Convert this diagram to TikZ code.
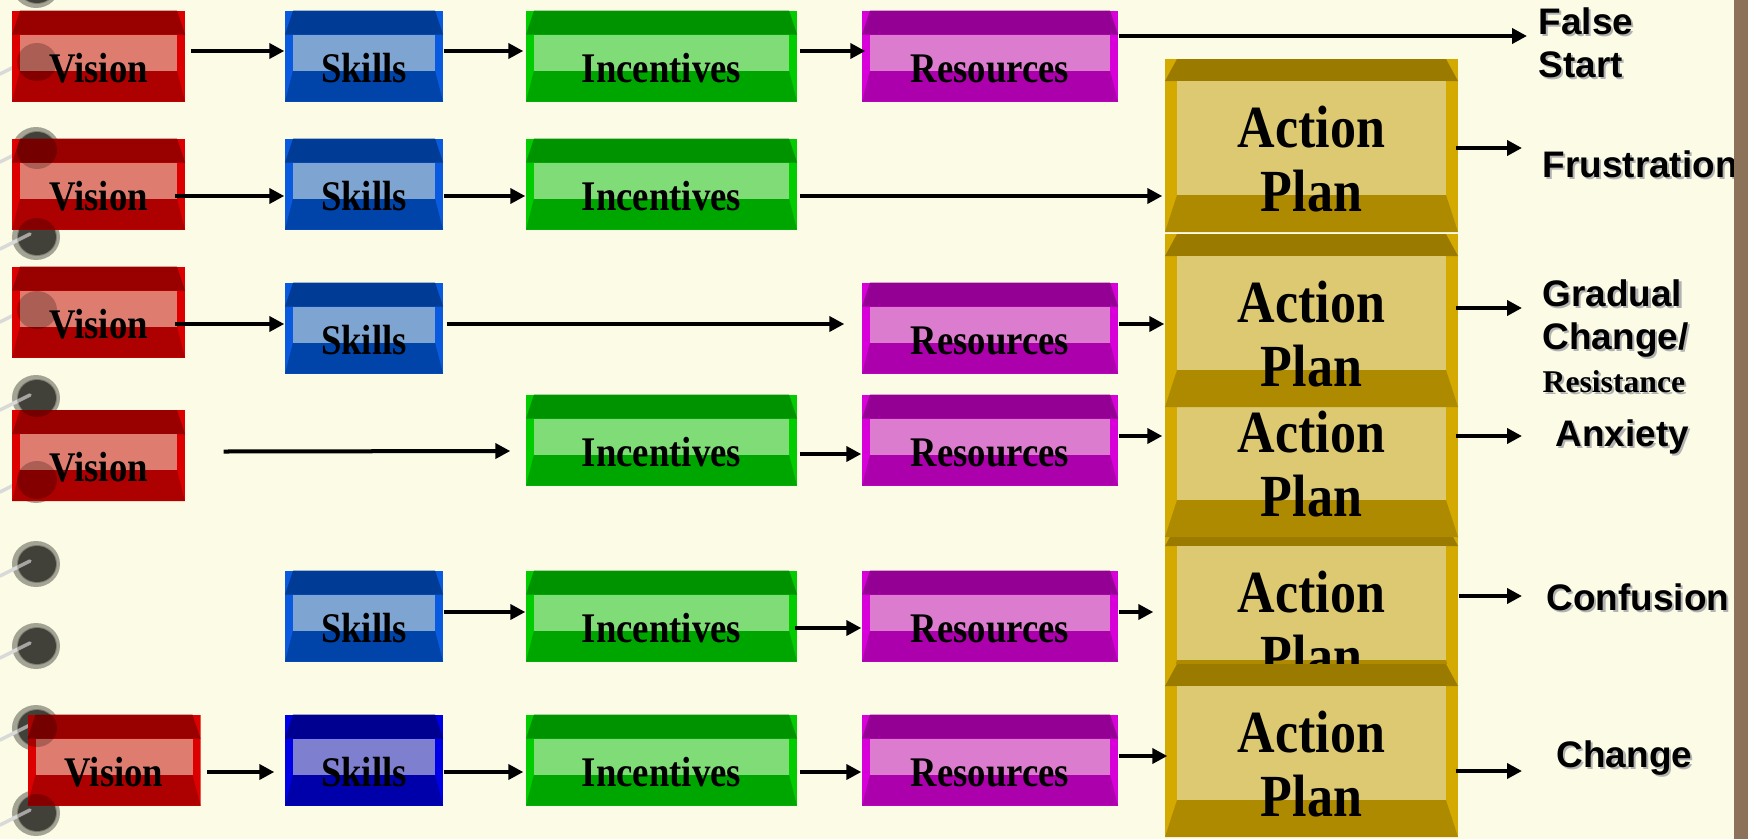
\documentclass[tikz,border=0pt]{standalone}
\usepackage{fontspec}
\setmainfont{Liberation Serif}
\setsansfont{Liberation Sans}
\newfontfamily\boxfont[FakeStretch=0.87]{Liberation Serif}
\usepackage{tikz}
\usetikzlibrary{positioning,arrows.meta}

\newlength\upx
\setlength\upx{0.01cm}

\definecolor{paper}{HTML}{FBFBE6}
\definecolor{binder}{HTML}{8B7258}
\definecolor{ring}{HTML}{3A3931}
\definecolor{vTop}{HTML}{990000}
\definecolor{vPan}{HTML}{DE7C70}
\definecolor{vBot}{HTML}{AD0000}
\definecolor{vSide}{HTML}{DD0000}
\definecolor{sTop}{HTML}{003C96}
\definecolor{sPan}{HTML}{7EA5D2}
\definecolor{sBot}{HTML}{0044AA}
\definecolor{sSide}{HTML}{0A5AE0}
\definecolor{dTop}{HTML}{000090}
\definecolor{dPan}{HTML}{7F7FCF}
\definecolor{dBot}{HTML}{0000AA}
\definecolor{dSide}{HTML}{0000E6}
\definecolor{iTop}{HTML}{009300}
\definecolor{iPan}{HTML}{7FDC77}
\definecolor{iBot}{HTML}{00A600}
\definecolor{iSide}{HTML}{00CC00}
\definecolor{rTop}{HTML}{940094}
\definecolor{rPan}{HTML}{DC7CCF}
\definecolor{rBot}{HTML}{AD00AD}
\definecolor{rSide}{HTML}{D800D8}
\definecolor{pTop}{HTML}{9A7B00}
\definecolor{pPan}{HTML}{DDC971}
\definecolor{pBot}{HTML}{AD8A00}
\definecolor{pSide}{HTML}{D4AA00}

% bevelled face: top, panel, bottom, side colours; inset, top depth, bottom depth
\newcommand\bevelfill[7]{%
  \fill[#4] (path picture bounding box.south west) rectangle (path picture bounding box.north east);
  \fill[#1] ([shift={(#5,0)}]path picture bounding box.north west) -- ([shift={(-#5,0)}]path picture bounding box.north east)
    -- ([shift={(0,#6)}]path picture bounding box.north east) -- ([shift={(0,#6)}]path picture bounding box.north west) -- cycle;
  \fill[#3] (path picture bounding box.south west) -- (path picture bounding box.south east)
    -- ([shift={(-#5,-#7)}]path picture bounding box.south east) -- ([shift={(#5,-#7)}]path picture bounding box.south west) -- cycle;
  \fill[#2] ([shift={(#5,#6)}]path picture bounding box.north west) rectangle ([shift={(-#5,-#7)}]path picture bounding box.south east);
}
\newcommand\shadowed[1]{\makebox[0pt][l]{\kern0.6pt\raisebox{-0.6pt}{\color{black!30}#1}}#1}

\tikzset{
  block/.style={rectangle, inner sep=0pt, minimum height=91\upx, text height=52\upx, text depth=0pt,
    font=\boxfont\bfseries\fontsize{12}{13}\selectfont},
  vision/.style={block, minimum width=173\upx, path picture={\bevelfill{vTop}{vPan}{vBot}{vSide}{8}{24}{31}}},
  skills/.style={block, minimum width=158\upx, path picture={\bevelfill{sTop}{sPan}{sBot}{sSide}{8}{24}{31}}},
  skillsdark/.style={block, minimum width=158\upx, path picture={\bevelfill{dTop}{dPan}{dBot}{dSide}{8}{24}{31}}},
  incent/.style={block, minimum width=271\upx, path picture={\bevelfill{iTop}{iPan}{iBot}{iSide}{8}{24}{31}}},
  resource/.style={block, minimum width=256\upx, path picture={\bevelfill{rTop}{rPan}{rBot}{rSide}{8}{24}{31}}},
  plan/.style={rectangle, inner sep=0pt, minimum width=293\upx, minimum height=173\upx, align=center,
    text height=132\upx, text depth=0pt, font=\boxfont\bfseries\fontsize{17}{18.2}\selectfont,
    path picture={\bevelfill{pTop}{pPan}{pBot}{pSide}{12}{22}{37}}},
  arr/.style={line width=0.04cm, -{Triangle[length=0.15cm,width=0.15cm]}},
  outcome/.style={anchor=west, inner sep=0pt, align=left, font=\sffamily\bfseries\fontsize{10.5}{12.2}\selectfont},
}

\begin{document}
\begin{tikzpicture}[x=\upx, y=-\upx]
\useasboundingbox (0,0) rectangle (1748,839);
\clip (0,0) rectangle (1748,839);
\fill[paper] (0,0) rectangle (1748,839);

% binder rings
\foreach \y in {-15,62,150,237,310,398,480,564,646,728,813} {
  \fill[ring!45!paper] (36,\y) ellipse [x radius=24\upx, y radius=23\upx];
  \fill[ring!85!paper] (37,\y) ellipse [x radius=19\upx, y radius=18\upx];
  \draw[gray!30, line width=0.035cm, line cap=round] (0,\y+12) -- (30,\y-3);
}

% rows
\node[vision] (v1) at (98.5,56) {Vision};
\node[skills] (s1) at (364,56) {Skills};
\node[incent] (i1) at (661.5,56) {Incentives};
\node[resource] (r1) at (990,56) {Resources};

\node[vision] (v2) at (98.5,184) {Vision};
\node[skills] (s2) at (364,184) {Skills};
\node[incent] (i2) at (661.5,184) {Incentives};

\node[vision] (v3) at (98.5,312) {Vision};
\node[skills] (s3) at (364,328) {Skills};
\node[resource] (r3) at (990,328) {Resources};

\node[vision] (v4) at (98.5,455.5) {Vision};
\node[incent] (i4) at (661.5,440) {Incentives};
\node[resource] (r4) at (990,440) {Resources};

\node[skills] (s5) at (364,616) {Skills};
\node[incent] (i5) at (661.5,616) {Incentives};
\node[resource] (r5) at (990,616) {Resources};

\node[vision] (v6) at (114,760) {Vision};
\node[skillsdark] (s6) at (364,760) {Skills};
\node[incent] (i6) at (661.5,760) {Incentives};
\node[resource] (r6) at (990,760) {Resources};

% action plans, the hidden ones first
\node[plan] (ap4) at (1311.5,610.5) {Action\\Plan};
\node[plan] (ap3) at (1311.5,450.5) {Action\\Plan};
\node[plan] (ap2) at (1311.5,320.5) {Action\\Plan};
\node[plan] (ap1) at (1311.5,145.5) {Action\\Plan};
\node[plan] (ap5) at (1311.5,750.5) {Action\\Plan};

% outcomes
\node[outcome] (fs) at (1538,43.5) {\shadowed{False}\\\shadowed{Start}};
\node[outcome] (frus) at (1542,165) {\shadowed{Frustration}};
\node[outcome] (grad) at (1542,337) {\shadowed{Gradual}\\\shadowed{Change/}\\{\rmfamily\fontsize{9}{10}\selectfont\shadowed{Resistance}}};
\node[outcome] (anx) at (1555,438) {\shadowed{Anxiety}};
\node[outcome] (conf) at (1546,598) {\shadowed{Confusion}};
\node[outcome] (chg) at (1556,759) {\shadowed{Change}};

% connectors
\draw[arr] ([shift={(5,-5)}]v1.east) -- ([shift={(0,-5)}]s1.west);
\draw[arr] ([shift={(0,-5)}]s1.east) -- ([shift={(-2,-5)}]i1.west);
\draw[arr] ([shift={(2,-5)}]i1.east) -- ([shift={(4,-5)}]r1.west);
\draw[arr] ([shift={(0,-20)}]r1.east) -- ([shift={(-11,-7.5)}]fs.west);

\draw[arr] ([shift={(-11,12)}]v2.east) -- ([shift={(0,12)}]s2.west);
\draw[arr] ([shift={(0,12)}]s2.east) -- ([shift={(0,12)}]i2.west);
\draw[arr] ([shift={(2,12)}]i2.east) -- ([shift={(-2,50.5)}]ap1.west);

\draw[arr] ([shift={(-11,12)}]v3.east) -- ([shift={(0,-4)}]s3.west);
\draw[arr] ([shift={(3,-4)}]s3.east) -- ([shift={(-17,-4)}]r3.west);
\draw[arr] ([shift={(0,-4)}]r3.east) -- ([shift={(0,3.5)}]ap2.west);

\draw[arr] ([shift={(38,-4)}]v4.east) -- ([shift={(-15,11)}]i4.west);
\draw[arr] ([shift={(2,14)}]i4.east) -- ([shift={(0,14)}]r4.west);
\draw[arr] ([shift={(0,-4)}]r4.east) -- ([shift={(-2,-14.5)}]ap3.west);

\draw[arr] ([shift={(0,-4)}]s5.east) -- ([shift={(0,-4)}]i5.west);
\draw[arr] ([shift={(-3,12)}]i5.east) -- ([shift={(0,12)}]r5.west);
\draw[arr] ([shift={(0,-4)}]r5.east) -- ([shift={(-11,1.5)}]ap4.west);

\draw[arr] ([shift={(6,12)}]v6.east) -- ([shift={(-10,12)}]s6.west);
\draw[arr] ([shift={(0,12)}]s6.east) -- ([shift={(-2,12)}]i6.west);
\draw[arr] ([shift={(2,12)}]i6.east) -- ([shift={(0,12)}]r6.west);
\draw[arr] ([shift={(0,-4)}]r6.east) -- ([shift={(3,5.5)}]ap5.west);

\draw[arr] ([shift={(-3,2.5)}]ap1.east) -- ([shift={(-20,-17)}]frus.west);
\draw[arr] ([shift={(-3,-12.5)}]ap2.east) -- ([shift={(-20,-29)}]grad.west);
\draw[arr] ([shift={(-3,-14.5)}]ap3.east) -- ([shift={(-33,-2)}]anx.west);
\draw[arr] ([shift={(0,-14.5)}]ap4.east) -- ([shift={(-24,-2)}]conf.west);
\draw[arr] ([shift={(-3,20.5)}]ap5.east) -- ([shift={(-34,12)}]chg.west);

% rings showing through the boxes
\foreach \y in {-15,62,150,237,310,398,480,564,646,728,813}
  \fill[ring, opacity=0.3, blend mode=multiply] (37,\y) ellipse [x radius=20\upx, y radius=19\upx];

\fill[binder] (1734,0) rectangle (1748,839);
\end{tikzpicture}
\end{document}
